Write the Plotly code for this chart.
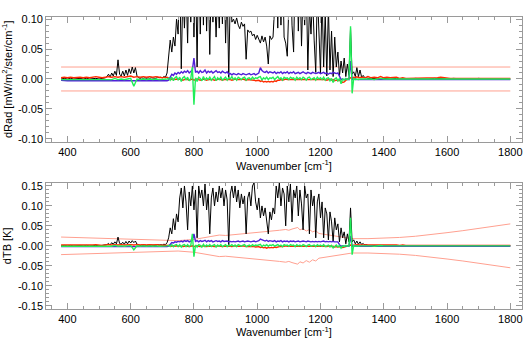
import plotly.graph_objects as go

# ---------------------------------------------------------------- grids
# black difference spectrum: coarse at the ends, 5 cm-1 through the window
wn_black = list(range(380, 521, 10)) + list(range(525, 1351, 5)) + list(range(1360, 1801, 20))
# red / purple / green spectra: 5 cm-1 between 700 and 1325
wn_fine = list(range(380, 691, 10)) + list(range(700, 1326, 5)) + list(range(1330, 1801, 10))
# noise envelope (dTB panel)
wn_env = [380, 420, 460, 500, 550, 600, 650, 700, 750, 800, 850, 880, 900, 930, 960, 990,
          1010, 1030, 1050, 1070, 1090, 1100, 1110, 1120, 1128, 1135, 1145, 1155, 1165,
          1175, 1185, 1195, 1210, 1230, 1250, 1270, 1300, 1350, 1400, 1450, 1500, 1550,
          1600, 1650, 1700, 1750, 1800]

# ---------------------------------------------------------------- dRad series
black_rad = [
    # 380-520
    0.000, 0.001, 0.000, 0.001, 0.000, 0.001, 0.001, 0.000, 0.001, 0.000, 0.001, 0.001, 0.000, 0.001, 0.002,
    # 525-1350
    0.004, 0.008, 0.003, 0.010, 0.005, 0.013, 0.006, 0.032, 0.008, 0.005,
    0.013, 0.005, 0.015, 0.006, 0.017, 0.009, 0.020, 0.010, 0.019, 0.005,
    0.002, 0.001, 0.002, 0.001, 0.002, 0.001, 0.002, 0.001, 0.002, 0.002,
    0.002, 0.001, 0.003, 0.002, 0.003, 0.002, 0.004, 0.003, 0.010, 0.040,
    0.065, 0.045, 0.070, 0.055, 0.100, 0.075, 0.180, 0.017, 0.150, 0.085,
    0.160, 0.060, 0.200, 0.095, 0.220, 0.070, 0.190, 0.020, 0.210, 0.075,
    0.200, 0.090, 0.220, 0.080, 0.180, 0.041, 0.170, 0.095, 0.150, 0.070,
    0.150, 0.085, 0.170, 0.092, 0.200, 0.060, 0.160, 0.000, 0.150, 0.095,
    0.100, 0.092, 0.102, 0.090, 0.084, 0.095, 0.088, 0.092, 0.033, 0.082,
    0.078, 0.080, 0.072, 0.075, 0.066, 0.073, 0.065, 0.060, 0.072, 0.062,
    0.070, 0.055, 0.025, 0.072, 0.066, 0.070, 0.120, 0.200, 0.085, 0.220,
    0.090, 0.200, 0.070, 0.060, 0.038, 0.160, 0.210, 0.090, 0.045, 0.190,
    0.210, 0.080, 0.180, 0.055, 0.150, 0.090, 0.170, 0.015, 0.120, 0.075,
    0.140, 0.065, 0.011, 0.150, 0.085, 0.010, 0.140, 0.020, 0.110, 0.005,
    0.120, 0.015, 0.080, 0.004, 0.070, 0.020, 0.045, 0.005, 0.030, 0.010,
    0.035, 0.004, 0.025, 0.006, 0.085, 0.008, 0.012, 0.004, 0.019, 0.004,
    0.015, 0.003, 0.006, 0.002, 0.002, 0.001,
    # 1360-1800
    0.001, 0.000, 0.001, 0.000, 0.001, 0.000, 0.000, 0.001, 0.000, 0.000, 0.001, 0.000,
    0.000, 0.001, 0.000, 0.000, 0.000, 0.001, 0.000, 0.000, 0.000, 0.000, 0.000,
]

red_rad = [
    # 380-690
    0.002, 0.003, 0.002, 0.003, 0.002, 0.003, 0.003, 0.002, 0.003, 0.002, 0.003, 0.004, 0.003, 0.002, 0.003, 0.004,
    0.003, 0.004, 0.003, 0.004, 0.003, 0.004, 0.005, 0.003, 0.004, 0.003, 0.004, 0.003, 0.004, 0.003, 0.004, 0.003,
    # 700-1325
    0.002, 0.003, 0.002, 0.003, 0.002, 0.000, -0.001, 0.000, -0.001, 0.000,
    -0.001, 0.000, -0.001, -0.002, -0.001, 0.000, -0.001, -0.002, -0.001, 0.000,
    -0.002, -0.001, 0.000, -0.001, -0.002, -0.001, 0.000, -0.001, -0.002, -0.001,
    -0.001, 0.000, -0.001, -0.002, -0.001, -0.001, 0.000, -0.001, -0.002, -0.001,
    -0.001, 0.000, -0.001, -0.001, -0.002, -0.001, 0.000, -0.001, -0.001, -0.002,
    -0.001, 0.000, -0.001, -0.002, -0.001, -0.001, -0.002, -0.001, -0.002, -0.003,
    -0.003, -0.002, -0.004, -0.003, -0.005, -0.004, -0.005, -0.004, -0.005, -0.004,
    -0.005, -0.003, -0.004, -0.002, -0.002, -0.001, -0.002, -0.001, 0.000, -0.001,
    -0.001, 0.000, -0.001, -0.001, 0.000, -0.001, 0.000, -0.001, -0.001, 0.000,
    -0.001, 0.000, -0.001, 0.000, -0.001, -0.001, 0.000, -0.001, 0.000, -0.001,
    0.000, -0.001, 0.000, -0.001, -0.002, -0.001, 0.000, -0.002, -0.001, -0.003,
    -0.002, -0.003, -0.002, -0.004, -0.006, -0.005, -0.002, 0.000, 0.001, 0.002,
    0.001, 0.003, 0.002, 0.004, 0.002, 0.003,
    # 1330-1800
    0.003, 0.002, 0.004, 0.002, 0.003, 0.002, 0.004, 0.002, 0.003, 0.002,
    0.002, 0.003, 0.001, 0.002, 0.001, 0.001, 0.002, 0.001, 0.001, 0.001,
    0.001, 0.001, 0.002, 0.001, 0.002, 0.003, 0.002, 0.002, 0.001, 0.001,
    0.001, 0.001, 0.001, 0.001, 0.001, 0.001, 0.001, 0.001, 0.001, 0.001,
    0.001, 0.001, 0.001, 0.001, 0.001, 0.001, 0.001, 0.001,
]

purple_rad = [
    # 380-690
    -0.002, -0.003, -0.003, -0.003, -0.003, -0.003, -0.003, -0.003, -0.003, -0.003, -0.003, -0.003, -0.004, -0.004, -0.004, -0.004,
    -0.004, -0.004, -0.004, -0.004, -0.004, -0.004, -0.004, -0.004, -0.004, -0.004, -0.004, -0.004, -0.004, -0.004, -0.004, -0.003,
    # 700-1325
    -0.004, -0.004, -0.003, -0.003, -0.002, 0.004, 0.008, 0.006, 0.010, 0.008,
    0.011, 0.009, 0.012, 0.010, 0.013, 0.011, 0.014, 0.010, 0.012, 0.015,
    0.035, 0.011, 0.013, 0.010, 0.014, 0.011, 0.012, 0.015, 0.010, 0.013,
    0.011, 0.013, 0.010, 0.012, 0.014, 0.011, 0.012, 0.010, 0.013, 0.011,
    0.010, 0.012, 0.008, 0.009, 0.007, 0.009, 0.008, 0.007, 0.009, 0.008,
    0.007, 0.009, 0.008, 0.007, 0.008, 0.009, 0.007, 0.008, 0.009, 0.007,
    0.008, 0.010, 0.019, 0.014, 0.012, 0.011, 0.013, 0.010, 0.012, 0.011,
    0.010, 0.012, 0.009, 0.011, 0.010, 0.012, 0.009, 0.011, 0.010, 0.012,
    0.009, 0.011, 0.010, 0.012, 0.009, 0.010, 0.011, 0.009, 0.010, 0.012,
    0.010, 0.009, 0.011, 0.010, 0.009, 0.011, 0.010, 0.009, 0.010, 0.011,
    0.009, 0.010, 0.011, 0.009, 0.010, 0.008, 0.010, 0.009, 0.011, 0.010,
    0.009, 0.010, 0.003, -0.001, 0.000, -0.001, 0.000, -0.001, -0.001, 0.030,
    -0.001, -0.001, 0.000, -0.001, -0.001, -0.001,
    # 1330-1800
    -0.001, -0.001, 0.000, -0.001, -0.001, -0.001, 0.000, -0.001, -0.001, -0.001,
    -0.001, 0.000, -0.001, -0.001, -0.001, -0.001, 0.000, -0.001, -0.001, -0.001,
    -0.001, -0.001, 0.000, -0.001, -0.001, -0.001, -0.001, 0.000, -0.001, -0.001,
    -0.001, -0.001, -0.001, 0.000, -0.001, -0.001, -0.001, -0.001, 0.000, -0.001,
    -0.001, -0.001, -0.001, -0.001, 0.000, -0.001, -0.001, -0.001,
]

green_rad = [
    # 380-690
    -0.001, -0.001, 0.000, -0.001, -0.001, 0.000, -0.001, -0.001, 0.000, -0.001, -0.001, 0.000, -0.001, 0.000, -0.001, 0.000,
    -0.001, 0.001, -0.001, 0.000, -0.001, 0.000, 0.001, -0.012, 0.000, -0.001, 0.000, -0.001, 0.000, -0.001, 0.000, -0.001,
    # 700-1325
    -0.001, 0.000, -0.001, 0.000, 0.001, -0.002, 0.003, -0.003, 0.002, 0.004,
    -0.002, 0.003, -0.004, 0.002, 0.004, -0.002, 0.003, -0.003, 0.001, 0.020,
    -0.043, 0.002, -0.004, 0.003, 0.001, -0.003, 0.004, -0.002, 0.002, -0.001,
    0.003, -0.002, 0.001, 0.004, -0.003, 0.002, -0.001, 0.003, -0.002, 0.001,
    0.003, -0.002, 0.002, 0.000, 0.004, -0.001, 0.002, -0.002, 0.003, 0.001,
    -0.001, 0.002, 0.003, -0.002, 0.001, 0.002, -0.001, 0.003, 0.000, 0.002,
    0.001, 0.003, 0.004, -0.002, 0.002, 0.000, 0.003, -0.001, 0.002, 0.001,
    0.003, -0.001, 0.002, 0.004, 0.000, 0.002, -0.002, 0.003, 0.001, 0.002,
    -0.001, 0.003, 0.001, 0.002, -0.002, 0.003, 0.000, 0.002, -0.001, 0.003,
    0.001, -0.002, 0.002, 0.003, -0.001, 0.001, 0.002, -0.002, 0.003, 0.000,
    0.002, -0.001, 0.003, -0.002, 0.001, 0.002, -0.003, 0.001, -0.006, 0.000,
    0.002, -0.003, 0.001, -0.008, 0.000, -0.002, 0.001, -0.001, 0.000, 0.088,
    -0.024, 0.001, -0.001, 0.000, -0.001, 0.000,
    # 1330-1800
    0.000, 0.001, 0.000, 0.000, -0.001, 0.000, 0.001, 0.000, 0.000, 0.000,
    0.000, 0.000, 0.001, 0.000, 0.000, 0.000, 0.000, 0.000, 0.000, 0.000,
    0.000, 0.000, 0.000, 0.000, 0.000, 0.000, 0.000, 0.000, 0.000, 0.000,
    0.000, 0.000, 0.000, 0.000, 0.000, 0.000, 0.000, 0.000, 0.000, 0.000,
    0.000, 0.000, 0.000, 0.000, 0.000, 0.000, 0.000, 0.000,
]

# constant threshold shown in the dRad panel
rad_limit = 0.02

# ---------------------------------------------------------------- dTB series
black_tb = [
    # 380-520
    0.000, 0.001, 0.000, 0.001, 0.000, 0.001, 0.001, 0.000, 0.001, 0.000, 0.001, 0.001, 0.000, 0.001, 0.002,
    # 525-1350
    0.003, 0.006, 0.002, 0.008, 0.004, 0.010, 0.005, 0.022, 0.006, 0.004,
    0.009, 0.004, 0.011, 0.005, 0.012, 0.007, 0.013, 0.008, 0.012, 0.004,
    0.002, 0.001, 0.002, 0.001, 0.002, 0.001, 0.002, 0.001, 0.002, 0.002,
    0.002, 0.001, 0.003, 0.002, 0.003, 0.002, 0.004, 0.003, 0.008, 0.020,
    0.045, 0.030, 0.068, 0.040, 0.080, 0.060, 0.120, 0.145, 0.095, 0.150,
    0.110, 0.040, 0.135, 0.100, 0.150, 0.090, 0.140, 0.020, 0.150, 0.120,
    0.140, 0.100, 0.155, 0.090, 0.130, 0.030, 0.120, 0.145, 0.100, 0.135,
    0.110, 0.150, 0.120, 0.145, 0.100, 0.140, 0.115, 0.000, 0.130, 0.150,
    0.120, 0.150, 0.110, 0.140, 0.095, 0.130, 0.105, 0.125, 0.030, 0.120,
    0.135, 0.100, 0.150, 0.158, 0.110, 0.090, 0.120, 0.070, 0.100, 0.075,
    0.095, 0.060, 0.030, 0.085, 0.065, 0.095, 0.080, 0.150, 0.120, 0.158,
    0.100, 0.145, 0.130, 0.050, 0.150, 0.110, 0.155, 0.060, 0.140, 0.120,
    0.150, 0.075, 0.140, 0.105, 0.040, 0.150, 0.120, 0.130, 0.030, 0.140,
    0.100, 0.125, 0.020, 0.110, 0.130, 0.070, 0.110, 0.020, 0.095, 0.080,
    0.015, 0.085, 0.060, 0.010, 0.070, 0.040, 0.055, 0.010, 0.045, 0.020,
    0.035, 0.005, 0.030, 0.010, 0.095, 0.010, 0.015, 0.005, 0.012, 0.004,
    0.010, 0.003, 0.006, 0.002, 0.003, 0.001,
    # 1360-1800
    0.001, 0.000, 0.001, 0.000, 0.001, 0.000, 0.000, 0.001, 0.000, 0.000, 0.001, 0.000,
    0.000, 0.001, 0.000, 0.000, 0.000, 0.001, 0.000, 0.000, 0.000, 0.000, 0.000,
]

red_tb = [
    # 380-690
    0.002, 0.002, 0.001, 0.002, 0.002, 0.001, 0.002, 0.002, 0.001, 0.002, 0.002, 0.003, 0.002, 0.001, 0.002, 0.003,
    0.002, 0.003, 0.002, 0.003, 0.002, 0.003, 0.003, 0.002, 0.003, 0.002, 0.003, 0.002, 0.003, 0.002, 0.003, 0.002,
    # 700-1325
    0.002, 0.002, 0.001, 0.002, 0.001, 0.000, -0.001, 0.000, -0.001, 0.000,
    -0.001, 0.000, -0.001, -0.002, -0.001, 0.000, -0.001, -0.002, -0.001, 0.000,
    -0.002, -0.001, 0.000, -0.001, -0.002, -0.001, 0.000, -0.001, -0.002, -0.001,
    -0.001, 0.000, -0.001, -0.002, -0.001, -0.001, 0.000, -0.001, -0.002, -0.001,
    -0.001, 0.000, -0.001, -0.001, -0.002, -0.001, 0.000, -0.001, -0.001, -0.002,
    -0.001, 0.000, -0.001, -0.002, -0.001, -0.001, -0.002, -0.001, -0.002, -0.003,
    -0.003, -0.002, -0.004, -0.003, -0.005, -0.004, -0.006, -0.004, -0.005, -0.004,
    -0.005, -0.003, -0.004, -0.002, -0.002, -0.001, -0.002, -0.001, 0.000, -0.001,
    -0.001, 0.000, -0.001, -0.001, 0.000, -0.001, 0.000, -0.001, -0.001, 0.000,
    -0.001, 0.000, -0.001, 0.000, -0.001, -0.001, 0.000, -0.001, 0.000, -0.001,
    0.000, -0.001, 0.000, -0.001, -0.002, -0.001, 0.000, -0.002, -0.001, -0.003,
    -0.002, -0.003, -0.002, -0.003, -0.004, -0.003, -0.002, 0.000, 0.001, 0.002,
    0.001, 0.002, 0.002, 0.003, 0.002, 0.002,
    # 1330-1800
    0.002, 0.002, 0.003, 0.002, 0.002, 0.002, 0.003, 0.002, 0.002, 0.002,
    0.002, 0.002, 0.001, 0.002, 0.001, 0.001, 0.002, 0.001, 0.001, 0.001,
    0.001, 0.001, 0.002, 0.001, 0.002, 0.002, 0.002, 0.001, 0.001, 0.001,
    0.001, 0.001, 0.001, 0.001, 0.001, 0.001, 0.001, 0.001, 0.001, 0.001,
    0.001, 0.001, 0.001, 0.001, 0.001, 0.001, 0.001, 0.001,
]

purple_tb = [
    # 380-690
    -0.002, -0.002, -0.003, -0.002, -0.003, -0.002, -0.003, -0.003, -0.002, -0.003, -0.003, -0.003, -0.003, -0.003, -0.003, -0.003,
    -0.003, -0.003, -0.003, -0.003, -0.003, -0.003, -0.003, -0.003, -0.003, -0.003, -0.003, -0.003, -0.003, -0.003, -0.003, -0.003,
    # 700-1325
    -0.003, -0.003, -0.002, -0.002, -0.001, 0.004, 0.008, 0.007, 0.010, 0.009,
    0.011, 0.010, 0.012, 0.010, 0.013, 0.011, 0.013, 0.010, 0.012, 0.014,
    0.030, 0.011, 0.013, 0.010, 0.013, 0.011, 0.012, 0.014, 0.010, 0.013,
    0.011, 0.013, 0.010, 0.012, 0.013, 0.011, 0.012, 0.010, 0.013, 0.011,
    0.011, 0.012, 0.010, 0.011, 0.010, 0.011, 0.010, 0.011, 0.012, 0.010,
    0.011, 0.012, 0.010, 0.011, 0.012, 0.011, 0.010, 0.011, 0.012, 0.010,
    0.011, 0.013, 0.017, 0.015, 0.013, 0.012, 0.014, 0.011, 0.013, 0.012,
    0.011, 0.013, 0.010, 0.012, 0.011, 0.013, 0.010, 0.012, 0.011, 0.012,
    0.010, 0.012, 0.011, 0.012, 0.010, 0.011, 0.012, 0.010, 0.011, 0.012,
    0.011, 0.010, 0.012, 0.011, 0.010, 0.011, 0.010, 0.011, 0.010, 0.011,
    0.010, 0.011, 0.012, 0.010, 0.011, 0.010, 0.011, 0.010, 0.011, 0.010,
    0.010, 0.010, 0.003, -0.001, 0.000, -0.001, 0.000, -0.001, -0.001, 0.025,
    -0.001, -0.001, 0.000, -0.001, -0.001, -0.001,
    # 1330-1800
    -0.001, -0.001, 0.000, -0.001, -0.001, -0.001, 0.000, -0.001, -0.001, -0.001,
    -0.001, 0.000, -0.001, -0.001, -0.001, -0.001, 0.000, -0.001, -0.001, -0.001,
    -0.001, -0.001, 0.000, -0.001, -0.001, -0.001, -0.001, 0.000, -0.001, -0.001,
    -0.001, -0.001, -0.001, 0.000, -0.001, -0.001, -0.001, -0.001, 0.000, -0.001,
    -0.001, -0.001, -0.001, -0.001, 0.000, -0.001, -0.001, -0.001,
]

green_tb = [
    # 380-690
    -0.001, -0.001, 0.000, -0.001, -0.001, 0.000, -0.001, -0.001, 0.000, -0.001, -0.001, 0.000, -0.001, 0.000, -0.001, 0.000,
    -0.001, 0.001, -0.001, 0.000, -0.001, 0.000, 0.001, -0.010, 0.000, -0.001, 0.000, -0.001, 0.000, -0.001, 0.000, -0.001,
    # 700-1325
    -0.001, 0.000, -0.001, 0.000, 0.001, -0.002, 0.003, -0.002, 0.002, 0.003,
    -0.002, 0.003, -0.003, 0.002, 0.003, -0.002, 0.003, -0.002, 0.001, 0.030,
    -0.027, 0.002, -0.003, 0.003, 0.001, -0.003, 0.004, -0.002, 0.002, -0.001,
    0.003, -0.002, 0.001, 0.003, -0.003, 0.002, -0.001, 0.003, -0.002, 0.001,
    0.003, -0.002, 0.002, 0.000, 0.003, -0.001, 0.002, -0.002, 0.003, 0.001,
    -0.001, 0.002, 0.003, -0.002, 0.001, 0.002, -0.001, 0.003, 0.000, 0.002,
    0.001, 0.003, 0.004, -0.002, 0.002, 0.000, 0.003, -0.001, 0.002, 0.001,
    0.003, -0.001, 0.002, 0.003, 0.000, 0.002, -0.002, 0.003, 0.001, 0.002,
    -0.001, 0.003, 0.001, 0.002, -0.002, 0.003, 0.000, 0.002, -0.001, 0.003,
    0.001, -0.002, 0.002, 0.003, -0.001, 0.001, 0.002, -0.002, 0.003, 0.000,
    0.002, -0.001, 0.003, -0.002, 0.001, 0.002, -0.003, 0.001, -0.005, 0.000,
    0.002, -0.003, 0.001, -0.006, 0.000, -0.002, 0.001, -0.001, 0.000, 0.070,
    -0.022, 0.001, -0.001, 0.000, -0.001, 0.000,
    # 1330-1800
    0.000, 0.001, 0.000, 0.000, -0.001, 0.000, 0.001, 0.000, 0.000, 0.000,
    0.000, 0.000, 0.001, 0.000, 0.000, 0.000, 0.000, 0.000, 0.000, 0.000,
    0.000, 0.000, 0.000, 0.000, 0.000, 0.000, 0.000, 0.000, 0.000, 0.000,
    0.000, 0.000, 0.000, 0.000, 0.000, 0.000, 0.000, 0.000, 0.000, 0.000,
    0.000, 0.000, 0.000, 0.000, 0.000, 0.000, 0.000, 0.000,
]

# dTB noise envelope (drawn as +/-)
tb_env = [0.022, 0.021, 0.020, 0.019, 0.018, 0.016, 0.014, 0.013, 0.013, 0.016, 0.022, 0.027,
          0.026, 0.028, 0.030, 0.033, 0.034, 0.036, 0.037, 0.039, 0.041, 0.039, 0.042, 0.044,
          0.046, 0.040, 0.043, 0.037, 0.041, 0.035, 0.038, 0.031, 0.029, 0.026, 0.024, 0.021,
          0.018, 0.018, 0.019, 0.021, 0.024, 0.028, 0.033, 0.038, 0.044, 0.049, 0.055]

# ---------------------------------------------------------------- styling
C_BLACK = "#000000"
C_RED = "#ff2a00"
C_PURPLE = "#5020d8"
C_GREEN = "#20ee58"
C_ENV = "#ffa090"
AX = "#9a9a9a"
FONT = "Liberation Sans, Arial, sans-serif"

fig = go.Figure()


def line(x, y, color, xa, ya, width=1.0):
    fig.add_trace(go.Scatter(x=x, y=y, mode="lines", xaxis=xa, yaxis=ya,
                             line=dict(color=color, width=width), hoverinfo="skip",
                             showlegend=False))


# top panel: radiance differences
line([wn_black[0], wn_black[-1]], [rad_limit, rad_limit], C_ENV, "x", "y")
line([wn_black[0], wn_black[-1]], [-rad_limit, -rad_limit], C_ENV, "x", "y")
line(wn_black, black_rad, C_BLACK, "x", "y")
line(wn_fine, red_rad, C_RED, "x", "y", 1.4)
line(wn_fine, purple_rad, C_PURPLE, "x", "y", 1.4)
line(wn_fine, green_rad, C_GREEN, "x", "y", 1.4)

# bottom panel: brightness temperature differences
line(wn_env, tb_env, C_ENV, "x2", "y2")
line(wn_env, [-v for v in tb_env], C_ENV, "x2", "y2")
line(wn_black, black_tb, C_BLACK, "x2", "y2")
line(wn_fine, red_tb, C_RED, "x2", "y2", 1.4)
line(wn_fine, purple_tb, C_PURPLE, "x2", "y2", 1.4)
line(wn_fine, green_tb, C_GREEN, "x2", "y2", 1.4)

x_ticks = [400, 600, 800, 1000, 1200, 1400, 1600, 1800]
rad_ticks = [-0.10, -0.05, 0.00, 0.05, 0.10]
rad_labels = ["-0.10", "-0.05", "0.00", "0.05", "0.10"]
tb_ticks = [-0.15, -0.10, -0.05, 0.00, 0.05, 0.10, 0.15]
tb_labels = ["-0.15", "-0.10", "-0.05", "-0.00", "0.05", "0.10", "0.15"]

common = dict(showline=True, linecolor=AX, linewidth=1, mirror="ticks", ticks="inside",
              ticklen=6, tickcolor=AX, tickwidth=1, showgrid=False, zeroline=False,
              tickfont=dict(family=FONT, size=11, color="black"))


def xaxis(anchor):
    return dict(common, domain=[0.088, 0.9937], range=[333, 1836], anchor=anchor,
                tickmode="array", tickvals=x_ticks, ticktext=[str(t) for t in x_ticks],
                minor=dict(tickmode="linear", tick0=0, dtick=50, ticks="inside",
                           ticklen=3, tickcolor=AX),
                title=dict(text="Wavenumber [cm<sup>-1</sup>]", standoff=2,
                           font=dict(family=FONT, size=11, color="black")))


def yaxis(anchor, domain, rng, vals, labels, title):
    return dict(common, domain=domain, range=rng, anchor=anchor,
                tickmode="array", tickvals=vals, ticktext=labels,
                minor=dict(tickmode="linear", tick0=0, dtick=0.01, ticks="inside",
                           ticklen=3, tickcolor=AX),
                title=dict(text=title, standoff=4,
                           font=dict(family=FONT, size=11, color="black")))


fig.update_layout(
    width=526, height=344,
    margin=dict(l=0, r=0, t=0, b=0),
    paper_bgcolor="white", plot_bgcolor="white",
    font=dict(family=FONT, size=11, color="black"),
    xaxis=xaxis("y"),
    yaxis=yaxis("x", [0.591, 0.9622], [-0.105, 0.104], rad_ticks, rad_labels,
                "dRad [mW/m<sup>2</sup>/ster/cm<sup>-1</sup>]"),
    xaxis2=xaxis("y2"),
    yaxis2=yaxis("x2", [0.0959, 0.4689], [-0.1575, 0.1575], tb_ticks, tb_labels,
                 "dTB [K]"),
)

fig.write_html("out.html")
